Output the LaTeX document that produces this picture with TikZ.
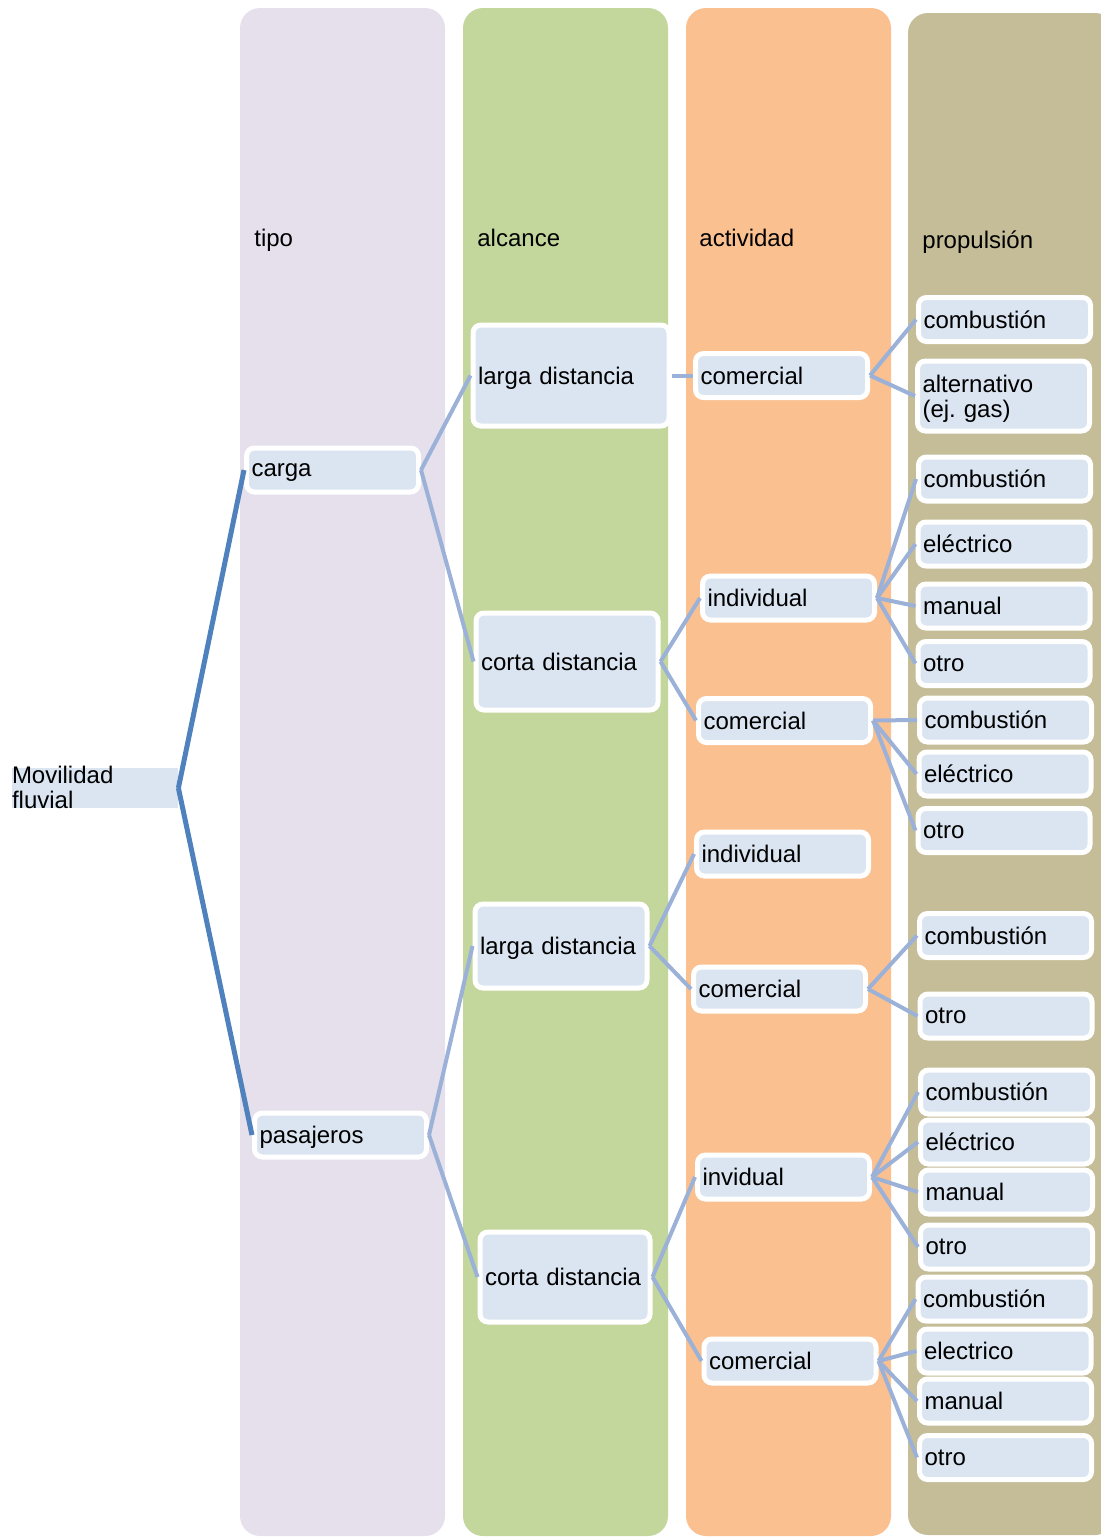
\documentclass[tikz,border=0pt]{standalone}
\usepackage{fontspec}
\setmainfont{Liberation Sans}
\usetikzlibrary{positioning}
\definecolor{cTipo}{HTML}{E5E0EC}
\definecolor{cAlcance}{HTML}{C3D69B}
\definecolor{cActividad}{HTML}{FAC090}
\definecolor{cProp}{HTML}{C4BD97}
\definecolor{cBox}{HTML}{DBE5F1}
\definecolor{cLink}{HTML}{9BB1D8}
\definecolor{cRoot}{HTML}{4F81BD}
\tikzset{
  colbox/.style={rounded corners=10pt},
  hdr/.style={anchor=base west, inner sep=0pt, font=\fontsize{12}{12.5}\selectfont},
  leaf/.style={draw=white, line width=2.5pt, fill=cBox, rounded corners=4pt, inner xsep=2.5pt,
    inner ysep=1pt, text width=81pt, text depth=0pt, minimum height=22pt, align=left,
    font=\fontsize{12}{12.5}\selectfont},
  link/.style={draw=cLink, line width=2pt},
  rootlink/.style={draw=cRoot, line width=2.5pt},
}

\begin{document}
\begin{tikzpicture}[x=0.5pt, y=-0.5pt]
  \clip (0,0) rectangle (1101,1537);
  % columns
  \fill[cTipo, colbox] (240,8) rectangle (445,1536);
  \fill[cAlcance, colbox] (463,8) rectangle (668,1536);
  \fill[cActividad, colbox] (686,8) rectangle (891,1536);
  \fill[cProp, colbox] (908,13) rectangle (1115,1535);
  \node[hdr] at (254,246) {tipo};
  \node[hdr] at (477,246) {alcance};
  \node[hdr] at (699,246) {actividad};
  \node[hdr] at (922,248) {propulsión};

  % root
  \node[fill=cBox, minimum width=83pt, minimum height=20pt, inner sep=0pt] (root) at (95,788) {};
  \node[anchor=north west, inner sep=0pt, align=left, yshift=1pt, font=\fontsize{12}{12.5}\selectfont]
    at (root.north west) {Movilidad\\fluvial};

  % tipo
  \node[leaf] (carga) at (332.5,470) {carga};
  \node[leaf] (pasaj) at (340.5,1135) {pasajeros};

  % alcance
  \node[leaf, text width=93pt, minimum height=50.5pt] (largaC) at (571,375.5) {larga distancia};
  \node[leaf, text width=86pt, minimum height=48.5pt] (cortaC) at (567,661.5) {corta distancia};
  \node[leaf, text width=81pt, minimum height=42pt] (largaP) at (561,946) {larga distancia};
  \node[leaf, text width=80pt, minimum height=45pt] (cortaP) at (565,1277) {corta distancia};

  % actividad
  \node[leaf] (com1) at (781.5,375.5) {comercial};
  \node[leaf] (ind1) at (788.5,598) {individual};
  \node[leaf] (com2) at (784.5,720.5) {comercial};
  \node[leaf] (ind2) at (782.5,854) {individual};
  \node[leaf] (com3) at (779.5,989) {comercial};
  \node[leaf] (inv) at (783.5,1177) {invidual};
  \node[leaf] (com4) at (790,1361) {comercial};

  % propulsion
  \node[leaf] (p1) at (1004.5,319.5) {combustión};
  \node[leaf, minimum height=35pt, text depth=12pt] (p2) at (1003.5,396) {alternativo\\(ej.\ gas)};
  \node[leaf] (p3) at (1004.5,479) {combustión};
  \node[leaf] (p4) at (1004,544) {eléctrico};
  \node[leaf] (p5) at (1004,606) {manual};
  \node[leaf] (p6) at (1004,663.5) {otro};
  \node[leaf] (p7) at (1005.5,720) {combustión};
  \node[leaf] (p8) at (1005,774) {eléctrico};
  \node[leaf] (p9) at (1004,830.5) {otro};
  \node[leaf] (p10) at (1005.5,935.5) {combustión};
  \node[leaf] (p11) at (1006,1016) {otro};
  \node[leaf] (p12) at (1006.5,1092) {combustión};
  \node[leaf] (p13) at (1006.5,1142) {eléctrico};
  \node[leaf] (p14) at (1006.5,1192) {manual};
  \node[leaf] (p15) at (1006.5,1247) {otro};
  \node[leaf] (p16) at (1004,1299) {combustión};
  \node[leaf] (p17) at (1005,1351) {electrico};
  \node[leaf] (p18) at (1005.5,1401) {manual};
  \node[leaf] (p19) at (1005.5,1457.5) {otro};

  % links
  \draw[rootlink] (root.east) -- (carga.west);
  \draw[rootlink] (root.east) -- (pasaj.west);
  \foreach \a/\b in {carga/largaC, carga/cortaC, pasaj/largaP, pasaj/cortaP,
      largaC/com1, cortaC/ind1, cortaC/com2, largaP/ind2, largaP/com3, cortaP/inv, cortaP/com4,
      com1/p1, com1/p2, ind1/p3, ind1/p4, ind1/p5, ind1/p6, com2/p7, com2/p8, com2/p9,
      com3/p10, com3/p11, inv/p12, inv/p13, inv/p14, inv/p15, com4/p16, com4/p17, com4/p18, com4/p19}
    \draw[link] (\a.east) -- (\b.west);
\end{tikzpicture}
\end{document}
